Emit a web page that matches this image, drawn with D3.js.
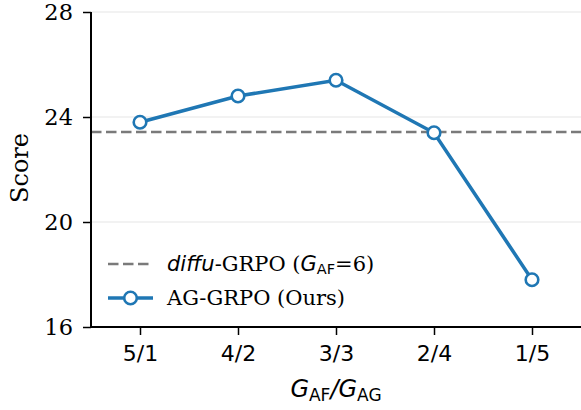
<!DOCTYPE html>
<html>
<head>
<meta charset="utf-8">
<script src="https://cdn.jsdelivr.net/npm/d3@7"></script>
<style>
  body { margin: 0; background: #fff; }
  svg text { fill: #000; }
</style>
</head>
<body>
<div id="chart"></div>
<script>
// données
const ratios = ['5/1', '4/2', '3/3', '2/4', '1/5'];
const scores = [23.8, 24.8, 25.4, 23.4, 17.8];
const baseline = 23.43;
const yTicks = [16, 20, 24, 28];

const W = 581, H = 410;
const margin = { top: 12, right: 0, bottom: 83, left: 91 };
const width = W - margin.left - margin.right;
const height = H - margin.top - margin.bottom;

const svg = d3.select("#chart").append("svg")
    .attr("width", W).attr("height", H);
const g = svg.append("g")
    .attr("transform", `translate(${margin.left},${margin.top})`);

const x = d3.scaleLinear().domain([-0.5, ratios.length - 0.5]).range([0, width]);
const y = d3.scaleLinear().domain([16, 28]).range([height, 0]);

// grille
g.selectAll(".grid").data(yTicks).enter().append("line")
    .attr("x1", 0).attr("x2", width)
    .attr("y1", d => y(d)).attr("y2", d => y(d))
    .attr("stroke", "#e6e6e6").attr("stroke-width", 1.2);

// ligne de référence
g.append("line")
    .attr("x1", 0).attr("x2", width)
    .attr("y1", y(baseline)).attr("y2", y(baseline))
    .attr("stroke", "#7a7a7a").attr("stroke-width", 2.4)
    .attr("stroke-dasharray", "10.5,4.5");

// axes
const yAxis = g.append("g")
    .call(d3.axisLeft(y).tickValues(yTicks).tickSize(8).tickPadding(10));
yAxis.selectAll("text").style("font-family", "DejaVu Serif").style("font-size", "22.5px");

const xAxis = g.append("g")
    .attr("transform", `translate(0,${height})`)
    .call(d3.axisBottom(x).tickValues(d3.range(ratios.length)).tickFormat(i => ratios[i])
        .tickSize(8).tickPadding(10));
xAxis.selectAll("text").style("font-family", "DejaVu Sans").style("font-size", "22px");

[yAxis, xAxis].forEach(a => {
    a.select(".domain").attr("stroke", "#000").attr("stroke-width", 2)
        .attr("d", a === yAxis ? `M0,0V${height}` : `M0,0H${width}`);
    a.selectAll(".tick line").attr("stroke", "#000").attr("stroke-width", 1.5);
});

// série
const line = d3.line().x((d, i) => x(i)).y(d => y(d));
g.append("path").datum(scores)
    .attr("d", line)
    .attr("fill", "none").attr("stroke", "#1f77b4").attr("stroke-width", 3.5);

g.selectAll(".pt").data(scores).enter().append("circle")
    .attr("cx", (d, i) => x(i)).attr("cy", d => y(d)).attr("r", 6.3)
    .attr("fill", "#fff").attr("stroke", "#1f77b4").attr("stroke-width", 2.6);

// titres des axes
svg.append("text")
    .attr("transform", `translate(28,168) rotate(-90)`)
    .attr("text-anchor", "middle")
    .style("font-family", "DejaVu Serif").style("font-size", "24px")
    .text("Score");

const xl = svg.append("text")
    .attr("x", margin.left + x(2)).attr("y", 397)
    .attr("text-anchor", "middle")
    .style("font-family", "DejaVu Sans").style("font-size", "24px");
xl.append("tspan").style("font-style", "italic").text("G");
xl.append("tspan").attr("dy", 4).style("font-size", "17px").text("AF");
xl.append("tspan").attr("dy", -4).style("font-style", "italic").text("/G");
xl.append("tspan").attr("dy", 4).style("font-size", "17px").text("AG");

// légende
const lg = svg.append("g");
lg.append("line")
    .attr("x1", 108).attr("x2", 153).attr("y1", 264).attr("y2", 264)
    .attr("stroke", "#7a7a7a").attr("stroke-width", 2.4).attr("stroke-dasharray", "10.5,4.5");
lg.append("line")
    .attr("x1", 108).attr("x2", 153).attr("y1", 298).attr("y2", 298)
    .attr("stroke", "#1f77b4").attr("stroke-width", 3.5);
lg.append("circle")
    .attr("cx", 130.5).attr("cy", 298).attr("r", 6.3)
    .attr("fill", "#fff").attr("stroke", "#1f77b4").attr("stroke-width", 2.6);

const t1 = lg.append("text").attr("x", 167).attr("y", 271)
    .style("font-family", "DejaVu Serif").style("font-size", "21px");
t1.append("tspan").style("font-family", "DejaVu Sans").style("font-style", "italic").text("diffu");
t1.append("tspan").text("-GRPO (");
t1.append("tspan").style("font-family", "DejaVu Sans").style("font-style", "italic").text("G");
t1.append("tspan").attr("dy", 3).style("font-family", "DejaVu Sans").style("font-size", "14.5px").text("AF");
t1.append("tspan").attr("dy", -3).text("=6)");

lg.append("text").attr("x", 167).attr("y", 305)
    .style("font-family", "DejaVu Serif").style("font-size", "21px")
    .text("AG-GRPO (Ours)");
</script>
</body>
</html>
